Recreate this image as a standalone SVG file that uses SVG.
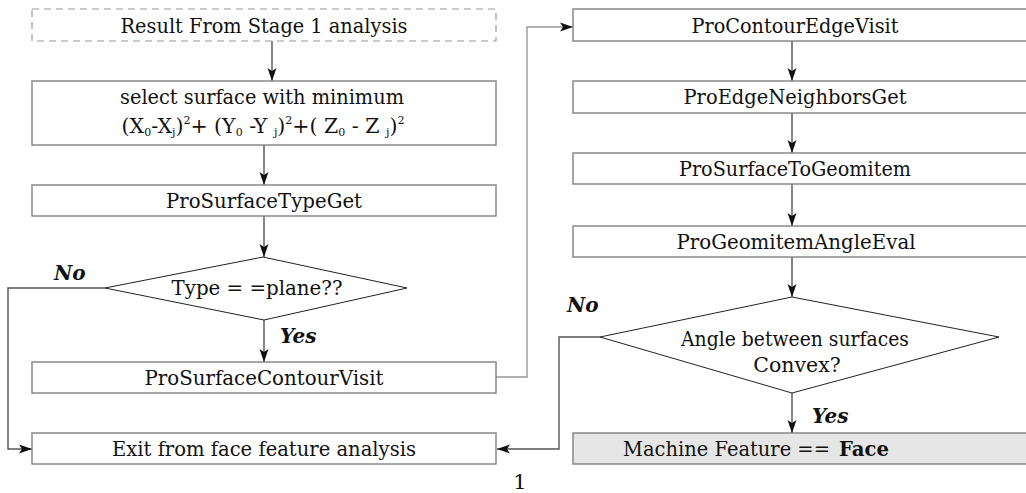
<svg xmlns="http://www.w3.org/2000/svg" width="1026" height="493" viewBox="0 0 1026 493">
<style>
.box{fill:#fff;stroke:#808080;stroke-width:1.4}
.dash{fill:#fff;stroke:#9a9a9a;stroke-width:1.2;stroke-dasharray:7 5}
.grey{fill:#e6e6e6;stroke:#808080;stroke-width:1.4}
.dia{fill:#fff;stroke:#222;stroke-width:1}
.t{font-family:"DejaVu Serif","Liberation Serif",serif;font-size:20.5px;fill:#111;text-anchor:middle}
.lab{font-family:"DejaVu Serif","Liberation Serif",serif;font-size:20px;font-weight:bold;font-style:italic;fill:#111}
.c{fill:none;stroke:#555;stroke-width:1.4}
.cl{fill:none;stroke:#999;stroke-width:1.4}
.s{font-size:11px}
</style>
<defs>
<marker id="ah" markerWidth="14" markerHeight="10" refX="13" refY="5" orient="auto" markerUnits="userSpaceOnUse">
<path d="M0,0.5 L13,5 L0,9.5 L3,5 Z" fill="#111"/>
</marker>
</defs>
<g id="connectors">
<line class="c" x1="272" y1="41" x2="272" y2="81" marker-end="url(#ah)"/>
<line class="c" x1="264" y1="145" x2="264" y2="185" marker-end="url(#ah)"/>
<line class="c" x1="264" y1="216" x2="264" y2="257" marker-end="url(#ah)"/>
<line class="c" x1="264" y1="320" x2="264" y2="362" marker-end="url(#ah)"/>
<polyline class="c" points="105,288 8,288 8,449 32,449" marker-end="url(#ah)"/>
<polyline class="cl" points="496,377 527,377 527,27 573,27" marker-end="url(#ah)"/>
<line class="c" x1="792" y1="41" x2="792" y2="81" marker-end="url(#ah)"/>
<line class="c" x1="792" y1="113" x2="792" y2="153" marker-end="url(#ah)"/>
<line class="c" x1="792" y1="184" x2="792" y2="226" marker-end="url(#ah)"/>
<line class="c" x1="792" y1="257" x2="792" y2="297" marker-end="url(#ah)"/>
<line class="c" x1="792" y1="393" x2="792" y2="433" marker-end="url(#ah)"/>
<polyline class="c" points="600,337 559,337 559,449 497,449" marker-end="url(#ah)"/>
</g>
<g id="n1"><rect class="dash" x="32" y="9" width="464" height="32"/><text class="t" x="264" y="33" textLength="287" lengthAdjust="spacingAndGlyphs">Result From Stage 1 analysis</text></g>
<g id="n2"><rect class="box" x="32" y="81" width="464" height="64"/>
<text class="t" x="262" y="104" textLength="284" lengthAdjust="spacingAndGlyphs">select surface with minimum</text>
<text class="t" x="263" y="133">(X<tspan class="s" dy="3">0</tspan><tspan dy="-3">-X</tspan><tspan class="s" dy="3">j</tspan><tspan dy="-3">)</tspan><tspan class="s" dy="-9">2</tspan><tspan dy="9">+ (Y</tspan><tspan class="s" dy="3">0</tspan><tspan dy="-3"> -Y </tspan><tspan class="s" dy="3">j</tspan><tspan dy="-3">)</tspan><tspan class="s" dy="-9">2</tspan><tspan dy="9">+( Z</tspan><tspan class="s" dy="3">0</tspan><tspan dy="-3"> - Z </tspan><tspan class="s" dy="3">j</tspan><tspan dy="-3">)</tspan><tspan class="s" dy="-9">2</tspan></text></g>
<g id="n3"><rect class="box" x="32" y="185" width="464" height="31"/><text class="t" x="264" y="208" textLength="196" lengthAdjust="spacingAndGlyphs">ProSurfaceTypeGet</text></g>
<g id="n4"><polygon class="dia" points="263,257 407,288 264,320 105,288"/><text class="t" x="257" y="295" textLength="171" lengthAdjust="spacingAndGlyphs">Type = =plane??</text></g>
<g id="n5"><rect class="box" x="32" y="362" width="464" height="31"/><text class="t" x="264" y="385" textLength="239" lengthAdjust="spacingAndGlyphs">ProSurfaceContourVisit</text></g>
<g id="n6"><rect class="box" x="32" y="433" width="464" height="31"/><text class="t" x="264" y="456" textLength="304" lengthAdjust="spacingAndGlyphs">Exit from face feature analysis</text></g>
<g id="n7"><rect class="box" x="573" y="9" width="470" height="32"/><text class="t" x="795" y="33" textLength="207" lengthAdjust="spacingAndGlyphs">ProContourEdgeVisit</text></g>
<g id="n8"><rect class="box" x="573" y="81" width="470" height="32"/><text class="t" x="795" y="104" textLength="223" lengthAdjust="spacingAndGlyphs">ProEdgeNeighborsGet</text></g>
<g id="n9"><rect class="box" x="573" y="153" width="470" height="31"/><text class="t" x="795" y="176" textLength="232" lengthAdjust="spacingAndGlyphs">ProSurfaceToGeomitem</text></g>
<g id="n10"><rect class="box" x="573" y="226" width="470" height="31"/><text class="t" x="796" y="249" textLength="239" lengthAdjust="spacingAndGlyphs">ProGeomitemAngleEval</text></g>
<g id="n11"><polygon class="dia" points="792,297 999,337 792,393 600,337"/><text class="t" x="795" y="346" textLength="228" lengthAdjust="spacingAndGlyphs">Angle between surfaces</text><text class="t" x="797" y="372">Convex?</text></g>
<g id="n12"><rect class="grey" x="573" y="433" width="470" height="31"/><text class="t" x="623" y="456" style="text-anchor:start" textLength="207" lengthAdjust="spacingAndGlyphs">Machine Feature ==</text><text class="t" x="839" y="456" style="text-anchor:start;font-weight:bold" textLength="50" lengthAdjust="spacingAndGlyphs">Face</text></g>
<g id="labels">
<text class="lab" x="54" y="280">No</text>
<text class="lab" x="280" y="343">Yes</text>
<text class="lab" x="567" y="312">No</text>
<text class="lab" x="812" y="423">Yes</text>
<text class="t" x="520" y="489" style="font-size:21px">1</text>
</g>
</svg>
